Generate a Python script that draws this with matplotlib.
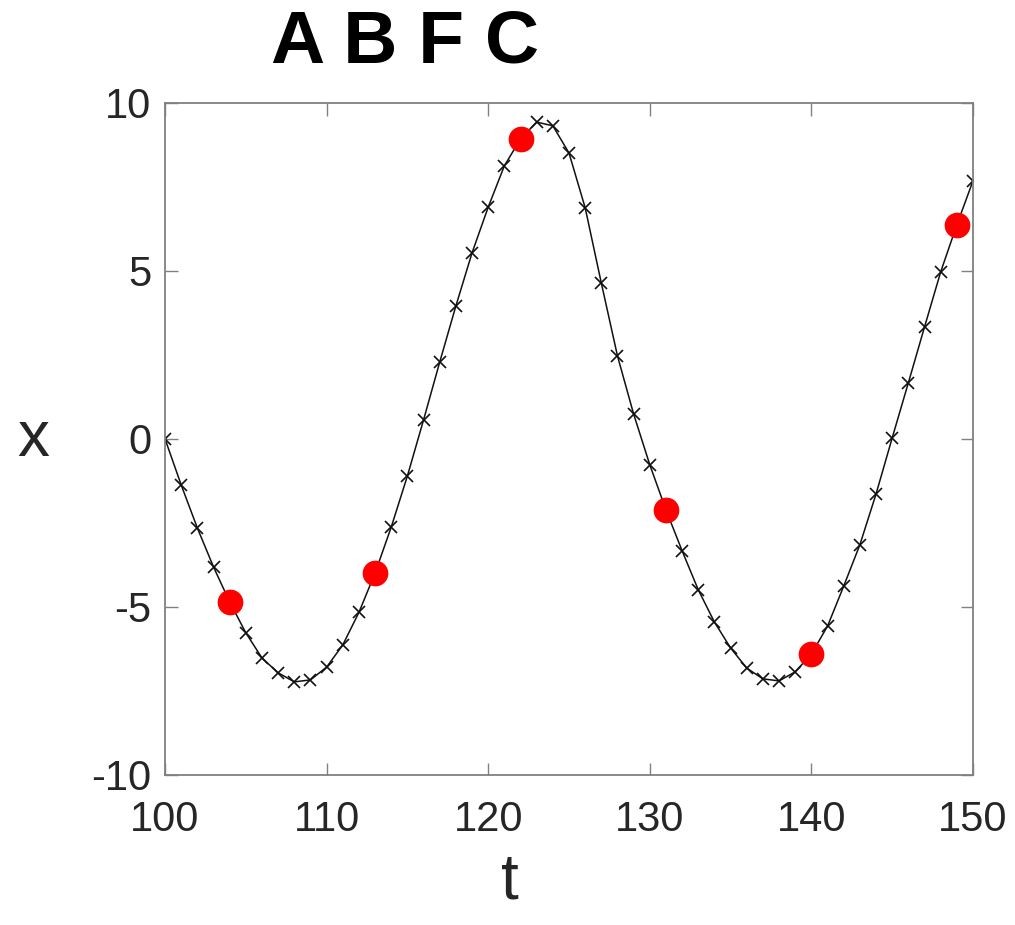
"""Time series x(t) with cross markers and highlighted red samples."""

import matplotlib

matplotlib.use("Agg")
import matplotlib.pyplot as plt

# sampled trajectory, one point per unit of t
t = list(range(100, 151))
x = [
    0.0, -1.37, -2.65, -3.81, -4.85, -5.77, -6.52, -6.96, -7.23, -7.17,
    -6.79, -6.13, -5.16, -3.99, -2.62, -1.10, 0.57, 2.29, 3.96, 5.54,
    6.90, 8.13, 8.93, 9.43, 9.32, 8.51, 6.88, 4.64, 2.47, 0.74,
    -0.77, -2.11, -3.33, -4.49, -5.45, -6.22, -6.82, -7.14, -7.20, -6.93,
    -6.40, -5.57, -4.38, -3.15, -1.64, 0.03, 1.67, 3.33, 4.97, 6.37,
    7.68,
]

# highlighted samples (every 9th step)
red_t = [104, 113, 122, 131, 140, 149]
red_x = [x[t.index(v)] for v in red_t]

xticks = [100, 110, 120, 130, 140, 150]
yticks = [-10, -5, 0, 5, 10]

plt.rcParams["font.family"] = ["Liberation Sans", "DejaVu Sans"]

fig = plt.figure(figsize=(10.15, 9.25), dpi=100, facecolor="white")
ax = fig.add_axes([0.1626, 0.1622, 0.796, 0.7265])

ax.plot(t, x, color="#111111", linewidth=1.1, marker="x", markersize=9,
        markeredgewidth=1.2, zorder=2)
ax.plot(red_t, red_x, linestyle="none", marker="o", markersize=17.5,
        color="#ff0000", zorder=3)

ax.set_xlim(100, 150)
ax.set_ylim(-10, 10)
ax.set_xticks(xticks)
ax.set_yticks(yticks)
ax.set_yticklabels([str(v) for v in yticks])
ax.tick_params(direction="in", length=9, width=1, colors="#808080",
               labelcolor="#262626", labelsize=30, top=True, right=True)
ax.tick_params(axis="x", pad=18)
ax.tick_params(axis="y", pad=10)
for spine in ax.spines.values():
    spine.set_color("#808080")
    spine.set_linewidth(1.3)

ax.set_xlabel("t", fontsize=46, color="#262626", va="center", ha="center")
ax.xaxis.set_label_coords(0.427, -0.158)
ax.set_ylabel("x", fontsize=46, color="#262626", rotation=0,
              va="center", ha="center")
ax.yaxis.set_label_coords(-0.163, 0.5)

fig.text(0.399, 0.953, "A B F C", fontsize=54, fontweight="bold",
         ha="center", va="center", color="black")

fig.savefig("out.png", dpi=100, facecolor="white")
plt.close(fig)
